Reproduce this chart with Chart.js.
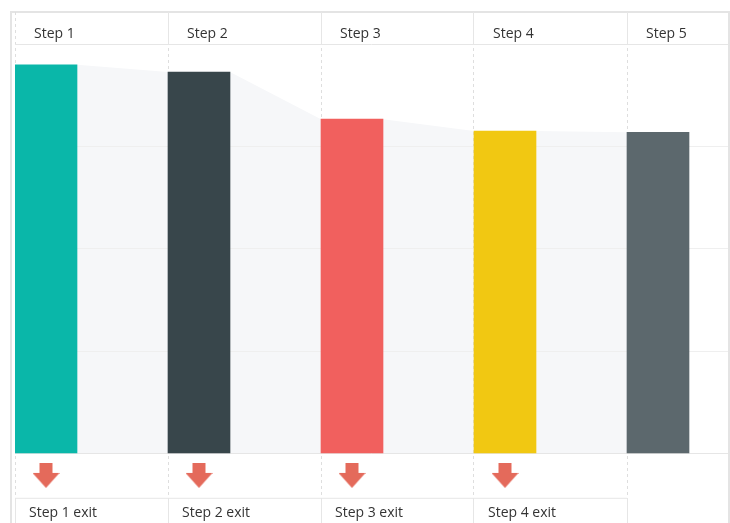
<!DOCTYPE html>
<html lang="en">
<head>
<meta charset="utf-8">
<title>Funnel steps</title>
<script src="https://cdn.jsdelivr.net/npm/chart.js@4.4.1/dist/chart.umd.min.js"></script>
<style>
    html, body { margin: 0; padding: 0; background: #fff; }
    #wrap { position: relative; width: 730px; height: 523px; overflow: hidden; }
    #frame { position: absolute; left: 10px; top: 11px; width: 716px; height: 600px; border: 2px solid #e4e4e4; }
    #funnelChart { position: absolute; left: 0; top: 0; }
</style>
</head>
<body>
<div id="wrap">
    <div id="frame"></div>
    <canvas id="funnelChart" width="730" height="523"></canvas>
</div>
<script>
// --- DATA ---
const stepLabels = ['Step 1', 'Step 2', 'Step 3', 'Step 4', 'Step 5'];
const stepValues = [95, 93.2, 81.7, 78.8, 78.5];
const exitLabels = ['Step 1 exit', 'Step 2 exit', 'Step 3 exit', 'Step 4 exit'];
const stepColors = ['#0ab7a9', '#38464b', '#f1605e', '#f1c812', '#5c686d'];
const yGridValues = [0, 25, 50, 75, 100];

// --- LAYOUT ---
const COL_PX = 153;                  // width of one step column
const BAR_PX = 62;                   // bar width
const BAR_FRAC = BAR_PX / COL_PX;    // bar width in column units
const X_MAX = 713 / COL_PX;          // last column is cut by the frame
const Y_MIN = -17.04, Y_MAX = 107.9; // room for header row and exit rows
const EXIT_Y = -11;                  // rule between arrow row and label row
const ARROW_Y = -5.4;
const GRID = '#e6e6e6';

// arrow glyph used as a point style
function makeArrow(color) {
    const c = document.createElement('canvas');
    c.width = 27; c.height = 25;
    const g = c.getContext('2d');
    g.fillStyle = color;
    g.beginPath();
    g.moveTo(7, 0); g.lineTo(20, 0); g.lineTo(20, 10); g.lineTo(27, 10);
    g.lineTo(13.5, 25); g.lineTo(0, 10); g.lineTo(7, 10);
    g.closePath();
    g.fill();
    return c;
}

// --- DATASETS ---
const barPoints = stepValues.map((v, i) => ({ x: i + BAR_FRAC / 2, y: v }));

// grey flow from the right edge of a bar to the left edge of the next one
const flowPoints = [];
stepValues.forEach((v, i) => {
    if (i > 0) flowPoints.push({ x: i, y: v });
    if (i < stepValues.length - 1) flowPoints.push({ x: i + BAR_FRAC, y: v });
});

const arrowPoints = exitLabels.map((_, i) => ({ x: i + BAR_FRAC / 2, y: ARROW_Y }));
const exitRule = [{ x: 0, y: EXIT_Y }, { x: exitLabels.length, y: EXIT_Y }];

Chart.defaults.font.family = "'Open Sans', sans-serif";
Chart.defaults.font.size = 14;
Chart.defaults.color = '#333';

// one tick per column boundary
const columnTicks = scale => { scale.ticks = stepLabels.map((_, i) => ({ value: i })); };

new Chart(document.getElementById('funnelChart'), {
    type: 'bar',
    data: {
        datasets: [
            { type: 'bar', data: barPoints, backgroundColor: stepColors, barThickness: BAR_PX, borderWidth: 0, xAxisID: 'x', order: 1 },
            { type: 'line', data: flowPoints, fill: 'origin', backgroundColor: '#f6f7f9', borderWidth: 0, pointRadius: 0, tension: 0, xAxisID: 'x', order: 3 },
            { type: 'scatter', data: arrowPoints, pointStyle: makeArrow('#e46a5b'), pointRadius: 0.1, pointBorderWidth: 0, xAxisID: 'x', order: 0 },
            { type: 'line', data: exitRule, borderColor: GRID, borderWidth: 1, pointRadius: 0, fill: false, xAxisID: 'x', order: 2 }
        ]
    },
    options: {
        responsive: false,
        animation: false,
        events: [],
        layout: { autoPadding: false, padding: { left: 15, right: 2, top: 12, bottom: 0 } },
        plugins: {
            legend: { display: false },
            tooltip: { enabled: false },
            filler: { drawTime: 'beforeDraw' }
        },
        scales: {
            x: {
                type: 'linear', axis: 'x', min: 0, max: X_MAX, offset: false,
                position: { y: EXIT_Y },
                border: { display: false, dash: [3, 3] },
                grid: { offset: false, color: '#dedede', tickColor: GRID, tickLength: 30, tickBorderDash: [] },
                afterBuildTicks: columnTicks,
                ticks: {
                    maxRotation: 0, autoSkip: false,
                    align: 'start', labelOffset: 14, padding: -23.2,
                    callback: v => exitLabels[v] ?? ''
                }
            },
            xTop: {
                type: 'linear', axis: 'x', min: 0, max: X_MAX, offset: false,
                position: { y: Y_MAX },
                border: { display: false },
                grid: {
                    offset: false, drawOnChartArea: false, tickLength: 32,
                    tickColor: c => c.tick.value === 0 ? 'rgba(0,0,0,0)' : GRID
                },
                afterBuildTicks: columnTicks,
                ticks: {
                    maxRotation: 0, autoSkip: false,
                    align: 'start', labelOffset: 19, padding: -18.8,
                    callback: v => stepLabels[v] ?? ''
                }
            },
            y: {
                type: 'linear', position: 'left', min: Y_MIN, max: Y_MAX,
                border: { display: false },
                grid: { drawTicks: false, color: c => (c.tick.value === 0 || c.tick.value === 100) ? GRID : '#efefef' },
                afterBuildTicks: scale => { scale.ticks = yGridValues.map(v => ({ value: v })); },
                ticks: { display: false }
            }
        }
    }
});
</script>
</body>
</html>
